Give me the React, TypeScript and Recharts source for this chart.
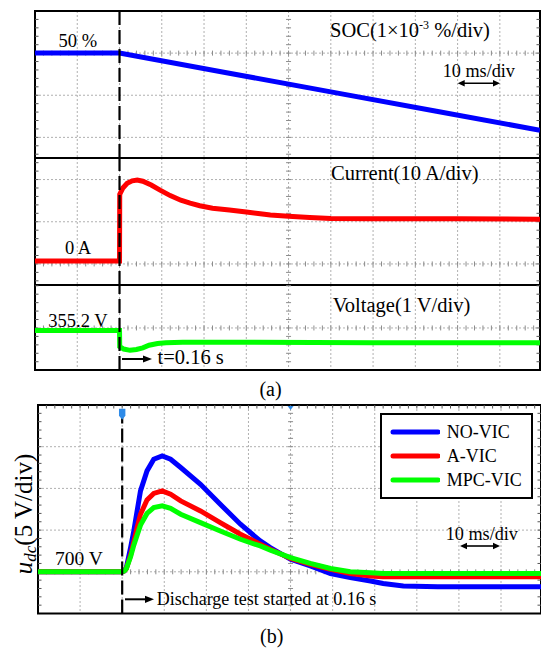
import React from 'react';
import {
  LineChart,
  Line,
  XAxis,
  YAxis,
  CartesianGrid,
  ReferenceLine,
  ReferenceArea,
  ReferenceDot,
  Legend,
} from 'recharts';

const FONT = '"Liberation Serif", "Times New Roman", Times, serif';

// ---------- shared time axis: ms after the 0.16 s trigger, 10 ms/div ----------
const timeDomain: [number, number] = [-20, 99.5];
const timeGrid = [-10, 0, 10, 20, 30, 40, 50, 60, 70, 80, 90];
const timeCenter = 40;
const timeDiv = 10;

// ---------- (a) SOC, 1e-3 %/div ----------
const socTime = [-20, 0, 25, 50, 75, 99.5];
const socValue = [50, 50, 49.99954, 49.99908, 49.99862, 49.99817];
const socDomain: [number, number] = [49.99751, 50.001];
const socGrid = [50, 49.999, 49.998];
const socCenter = 50;
const socDiv = 0.001;

// ---------- (a) current, 10 A/div ----------
const curTime = [-20, 0, 0.05, 0.8, 1.8, 3, 4.2, 5.5, 7.5, 9.6, 12, 14.5, 16.7, 19, 22, 26, 30, 33.3, 35.7, 40, 45, 50, 60, 80, 99.5];
const curValue = [0, 0, 15.8, 17.3, 18.4, 19.0, 19.2, 18.9, 18.0, 16.8, 15.5, 14.4, 13.7, 13.1, 12.5, 12.1, 11.6, 11.2, 10.9, 10.6, 10.3, 10.1, 10.0, 10.0, 9.9];
const curDomain: [number, number] = [-5.69, 24.41];
const curGrid = [-0.7, 9.3, 19.3];
const curCenter = -0.7;
const curDiv = 10;

// ---------- (a) battery voltage, 1 V/div ----------
const volTime = [-20, 0, 0.05, 1, 2.5, 4, 5.5, 7, 9, 11, 15, 30, 60, 99.5];
const volValue = [355.2, 355.2, 354.82, 354.76, 354.73, 354.75, 354.79, 354.85, 354.89, 354.91, 354.92, 354.92, 354.91, 354.91];
const volDomain: [number, number] = [354.264, 356.278];
const volGrid = [355.26];
const volCenter = 355.26;
const volDiv = 1;

// ---------- (b) DC-bus voltage u_dc, 5 V/div ----------
const udcTime = [-20, 0, 0.5, 1, 2, 2.76, 3.55, 4.35, 5.9, 7.5, 9.5, 11.5, 13.9, 18.6, 23.3, 28.1, 32.8, 35.2, 40, 44.7, 49.5, 54.2, 59, 62, 66.8, 75, 85, 99.5];
const udcNoVic = [700, 700, 700.1, 700.5, 702.9, 704.9, 707.3, 709.7, 712.1, 713.5, 713.9, 713.5, 712.5, 710.5, 708.1, 705.7, 703.7, 702.9, 701.5, 700.7, 699.8, 699.3, 698.9, 698.6, 698.3, 698.2, 698.2, 698.2];
const udcAVic = [700, 700, 700.1, 700.4, 702.0, 703.6, 705.3, 706.9, 708.6, 709.4, 709.7, 709.3, 708.5, 707.3, 705.9, 704.5, 703.3, 702.7, 701.6, 700.9, 700.3, 699.8, 699.5, 699.4, 699.4, 699.4, 699.4, 699.4];
const udcMpcVic = [700, 700, 700.1, 700.4, 701.8, 703.2, 704.4, 705.6, 707.0, 707.7, 707.9, 707.6, 706.9, 705.9, 704.9, 703.9, 703.1, 702.6, 701.7, 701.0, 700.4, 700.0, 699.9, 699.8, 699.8, 699.8, 699.8, 699.8];
const udcDomain: [number, number] = [695, 720];
const udcGrid = [700, 705, 710, 715];
const udcCenter = 700;
const udcDiv = 5;
const udcNames = ['NO-VIC', 'A-VIC', 'MPC-VIC'];
const udcColors = ['#0000ff', '#ff0000', '#00ff00'];

const toData = (ts: number[], vs: number[]) => ts.map((t, i) => ({ t, v: vs[i] }));
const socData = toData(socTime, socValue);
const curData = toData(curTime, curValue);
const volData = toData(volTime, volValue);
const udcSeries = [udcNoVic, udcAVic, udcMpcVic].map((vs) => toData(udcTime, vs));

function minorSteps(center: number, step: number, dom: [number, number]) {
  const out: number[] = [];
  const kLo = Math.ceil((dom[0] - center) / step + 1e-6);
  const kHi = Math.floor((dom[1] - center) / step - 1e-6);
  for (let k = kLo; k <= kHi; k++) out.push(+(center + k * step).toFixed(8));
  return out;
}

const timeMinor = minorSteps(0, timeDiv / 5, timeDomain);

const M = 3;
const TICK = '#8c8c8c';
const BORDER_TICK = '#555';

type ScopeProps = {
  left: number;
  top: number;
  width: number;
  height: number;
  yDomain: [number, number];
  yGrid: number[];
  yCenter: number;
  yDiv: number;
  topTicks?: boolean;
  children?: React.ReactNode;
  legend?: React.ReactNode;
  markers?: React.ReactNode;
};

function Scope({ left, top, width, height, yDomain, yGrid, yCenter, yDiv, topTicks, children, legend, markers }: ScopeProps) {
  const pxT = width / (timeDomain[1] - timeDomain[0]);
  const pxY = height / (yDomain[1] - yDomain[0]);
  const cT = 2.5 / pxT;
  const cY = 2.5 / pxY;
  const bT = 3.5 / pxT;
  const bY = 3.5 / pxY;
  const yMinor = minorSteps(yCenter, yDiv / 5, yDomain);
  return (
    <div style={{ position: 'absolute', left: left - M, top: top - M }}>
      <LineChart width={width + 2 * M} height={height + 2 * M} margin={{ top: M, right: M, bottom: M, left: M }}>
        <XAxis dataKey="t" type="number" domain={timeDomain} allowDataOverflow hide />
        <YAxis type="number" domain={yDomain} allowDataOverflow hide />
        <CartesianGrid
          horizontalValues={yGrid}
          verticalValues={timeGrid}
          stroke="#b0b0b0"
          strokeDasharray="2 2"
        />
        {timeMinor.map((t, i) => (
          <ReferenceLine
            key={'ch' + i}
            ifOverflow="visible"
            segment={[{ x: t, y: yCenter - cY }, { x: t, y: yCenter + cY }]}
            stroke={TICK}
          />
        ))}
        {yMinor.map((v, i) => (
          <ReferenceLine
            key={'cv' + i}
            ifOverflow="visible"
            segment={[{ x: timeCenter - cT, y: v }, { x: timeCenter + cT, y: v }]}
            stroke={TICK}
          />
        ))}
        {yMinor.map((v, i) => (
          <ReferenceLine
            key={'bl' + i}
            ifOverflow="visible"
            segment={[{ x: timeDomain[0], y: v }, { x: timeDomain[0] + bT, y: v }]}
            stroke={BORDER_TICK}
          />
        ))}
        {yMinor.map((v, i) => (
          <ReferenceLine
            key={'br' + i}
            ifOverflow="visible"
            segment={[{ x: timeDomain[1] - bT, y: v }, { x: timeDomain[1], y: v }]}
            stroke={BORDER_TICK}
          />
        ))}
        {topTicks &&
          timeMinor.map((t, i) => (
            <ReferenceLine
              key={'bt' + i}
              ifOverflow="visible"
              segment={[{ x: t, y: yDomain[1] }, { x: t, y: yDomain[1] - bY }]}
              stroke={BORDER_TICK}
            />
          ))}
        {children}
        <ReferenceLine x={0} ifOverflow="visible" stroke="#000" strokeWidth={2.2} strokeDasharray="14 5" />
        <ReferenceArea
          x1={timeDomain[0]}
          x2={timeDomain[1]}
          y1={yDomain[0]}
          y2={yDomain[1]}
          ifOverflow="visible"
          fill="none"
          fillOpacity={0}
          stroke="#000"
          strokeWidth={2}
        />
        {markers}
        {legend}
      </LineChart>
    </div>
  );
}

function LegendBox(props: any) {
  const raw: any[] = props.payload && props.payload.length
    ? props.payload
    : udcNames.map((n, i) => ({ value: n, color: udcColors[i] }));
  const payload = [...raw].sort((a, b) => udcNames.indexOf(a.value) - udcNames.indexOf(b.value));
  return (
    <div
      style={{
        boxSizing: 'border-box',
        width: 153,
        height: 86,
        border: '2px solid #000',
        background: '#fff',
        paddingTop: 5,
        fontFamily: FONT,
      }}
    >
      {payload.map((e: any, i: number) => (
        <div key={i} style={{ display: 'flex', alignItems: 'center', height: 24 }}>
          <svg width={58} height={24} style={{ display: 'block' }}>
            <line x1={11} x2={56} y1={12} y2={12} stroke={e.color} strokeWidth={5} strokeLinecap="round" />
          </svg>
          <span style={{ fontSize: 18, marginLeft: 6.7, lineHeight: '24px', color: '#000' }}>{e.value}</span>
        </div>
      ))}
    </div>
  );
}

function ArrowRight({ x1, x2, y }: { x1: number; x2: number; y: number }) {
  return (
    <g>
      <line x1={x1} x2={x2 - 7} y1={y} y2={y} stroke="#000" strokeWidth={2} />
      <polygon points={`${x2 - 9},${y - 3.6} ${x2},${y} ${x2 - 9},${y + 3.6}`} fill="#000" />
    </g>
  );
}

function ArrowBoth({ x1, x2, y }: { x1: number; x2: number; y: number }) {
  return (
    <g>
      <line x1={x1 + 5} x2={x2 - 5} y1={y} y2={y} stroke="#000" strokeWidth={1.6} />
      <polygon points={`${x1},${y} ${x1 + 7},${y - 3.3} ${x1 + 7},${y + 3.3}`} fill="#000" />
      <polygon points={`${x2},${y} ${x2 - 7},${y - 3.3} ${x2 - 7},${y + 3.3}`} fill="#000" />
    </g>
  );
}

export default function App() {
  const lineCommon = { dot: false, isAnimationActive: false, type: 'linear' as const, dataKey: 'v' };
  return (
    <div style={{ position: 'absolute', left: 0, top: 0, width: 541, height: 648, background: '#fff', fontFamily: FONT }}>
      {/* (a) SOC */}
      <Scope left={35} top={11} width={505} height={147} yDomain={socDomain} yGrid={socGrid} yCenter={socCenter} yDiv={socDiv}>
        <Line {...lineCommon} data={socData} stroke="#0000ff" strokeWidth={5} name="SOC" />
      </Scope>
      {/* (a) Current */}
      <Scope left={35} top={158} width={505} height={127} yDomain={curDomain} yGrid={curGrid} yCenter={curCenter} yDiv={curDiv}>
        <Line {...lineCommon} data={curData} stroke="#ff0000" strokeWidth={5} name="Current" />
      </Scope>
      {/* (a) Voltage */}
      <Scope left={35} top={285} width={505} height={85} yDomain={volDomain} yGrid={volGrid} yCenter={volCenter} yDiv={volDiv}>
        <Line {...lineCommon} data={volData} stroke="#00ff00" strokeWidth={5} name="Voltage" />
      </Scope>
      {/* (b) u_dc */}
      <Scope
        left={37.5}
        top={404.5}
        width={503}
        height={208.5}
        yDomain={udcDomain}
        yGrid={udcGrid}
        yCenter={udcCenter}
        yDiv={udcDiv}
        topTicks
        markers={[
          <ReferenceDot
            key="trig"
            x={0}
            y={718.9}
            r={0}
            ifOverflow="visible"
            shape={(p: any) => (
              <path d={`M${p.cx - 3.2},${p.cy - 5.5} h6.4 v7 l-3.2,4 l-3.2,-4 z`} fill="#2f8be8" />
            )}
          />,
          <ReferenceDot
            key="ctr"
            x={timeCenter}
            y={719.7}
            r={0}
            ifOverflow="visible"
            shape={(p: any) => (
              <path d={`M${p.cx - 3},${p.cy - 1.5} h6 l-3,4 z`} fill="#2f8be8" />
            )}
          />,
        ]}
        legend={
          <Legend
            layout="horizontal"
            verticalAlign="middle"
            align="center"
            itemSorter={null as any}
            wrapperStyle={{ left: 380 - (37.5 - M), top: 412.7 - (404.5 - M), width: 153, height: 86, right: 'auto', bottom: 'auto' }}
            content={(p: any) => <LegendBox payload={p.payload} />}
          />
        }
      >
        {udcSeries.map((d, i) => (
          <Line key={udcNames[i]} {...lineCommon} data={d} name={udcNames[i]} stroke={udcColors[i]} strokeWidth={5} />
        ))}
      </Scope>

      <svg
        width={541}
        height={648}
        style={{ position: 'absolute', left: 0, top: 0, pointerEvents: 'none' }}
        fontFamily={FONT}
        fill="#000"
      >
        {/* (a) annotations */}
        <text x={330} y={36.7} fontSize={20.5}>
          SOC(1×10<tspan fontSize={12} dy={-8}>-3</tspan>
          <tspan dy={8}>{' %/div)'}</tspan>
        </text>
        <text x={442.7} y={76.5} fontSize={18.2}>10 ms/div</text>
        <ArrowBoth x1={457.7} x2={500} y={83.3} />
        <text x={58.5} y={46.7} fontSize={18.5}>50 %</text>
        <text x={331} y={180} fontSize={20.5}>Current(10 A/div)</text>
        <text x={65} y={254} fontSize={18.5}>0 A</text>
        <text x={332.7} y={311.7} fontSize={20.5}>Voltage(1 V/div)</text>
        <text x={48.3} y={326.7} fontSize={18.5}>355.2 V</text>
        <ArrowRight x1={122} x2={152} y={359} />
        <text x={157.5} y={364} fontSize={20.5}>t=0.16 s</text>
        <text x={270.5} y={396} fontSize={20} textAnchor="middle">(a)</text>

        {/* (b) annotations */}
        <text x={32} y={514} fontSize={25} textAnchor="middle" transform="rotate(-90 32 514)">
          <tspan fontStyle="italic">u</tspan>
          <tspan fontStyle="italic" fontSize={17} dy={4}>dc</tspan>
          <tspan dy={-4}>(5 V/div)</tspan>
        </text>
        <text x={55} y={565} fontSize={19.5}>700 V</text>
        <text x={445.7} y={540} fontSize={18.2}>10 ms/div</text>
        <ArrowBoth x1={460} x2={500} y={546} />
        <ArrowRight x1={125} x2={154} y={599.3} />
        <text x={156.7} y={605} fontSize={18}>Discharge test started at 0.16 s</text>
        <text x={271.7} y={643} fontSize={20} textAnchor="middle">(b)</text>
      </svg>
    </div>
  );
}
